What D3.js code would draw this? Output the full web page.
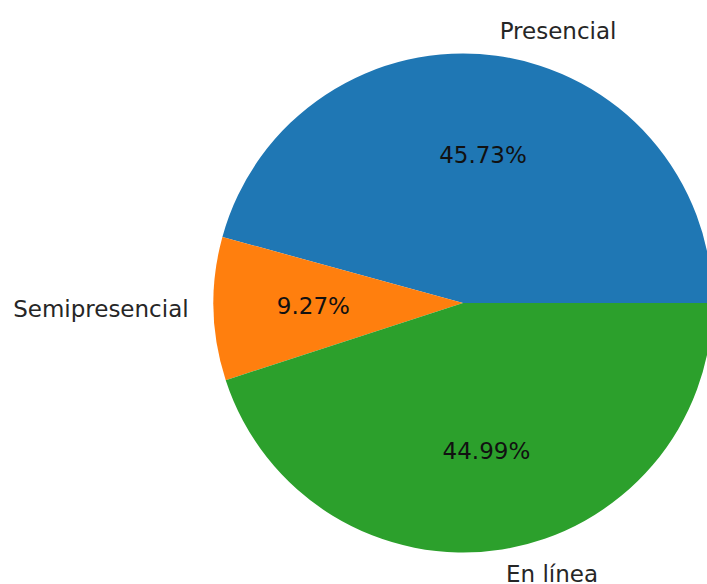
<!DOCTYPE html>
<html>
<head>
<meta charset="utf-8">
<script src="https://cdn.jsdelivr.net/npm/d3@7"></script>
<style>
html,body{margin:0;padding:0;background:#fff;}
svg{display:block;}
text{font-family:"DejaVu Sans",sans-serif;}
</style>
</head>
<body>
<svg id="chart" width="707" height="584"></svg>
<script>
const categories = ["Presencial", "Semipresencial", "En línea"];
const values = [45.73, 9.27, 44.99];
const colors = ["#1f77b4", "#ff7f0e", "#2ca02c"];

const W = 707, H = 584;
const cx = 463, cy = 303, R = 249.5;
const fontSize = 23;

const svg = d3.select("#chart");
const g = svg.append("g").attr("transform", `translate(${cx},${cy})`);

const data = categories.map((c, i) => ({cat: c, value: values[i], color: colors[i]}));
const pie = d3.pie().value(d => d.value).sort(null)
  .startAngle(Math.PI / 2).endAngle(Math.PI / 2 - 2 * Math.PI);
const arcs = pie(data);
const arc = d3.arc().innerRadius(0).outerRadius(R);

g.selectAll("path.slice").data(arcs).enter().append("path")
  .attr("class", "slice")
  .attr("d", arc)
  .attr("fill", d => d.data.color);

const total = d3.sum(values);
const mid = d => (d.startAngle + d.endAngle) / 2;

g.selectAll("text.pct").data(arcs).enter().append("text")
  .attr("class", "pct")
  .attr("x", d => 0.6 * R * Math.sin(mid(d)))
  .attr("y", d => -0.6 * R * Math.cos(mid(d)))
  .attr("text-anchor", "middle")
  .attr("dominant-baseline", "central")
  .attr("font-size", fontSize)
  .attr("fill", "#111")
  .text(d => (d.data.value / total * 100).toFixed(2) + "%");

g.selectAll("text.lab").data(arcs).enter().append("text")
  .attr("class", "lab")
  .attr("x", d => 1.1 * R * Math.sin(mid(d)))
  .attr("y", d => -1.1 * R * Math.cos(mid(d)))
  .attr("text-anchor", d => Math.sin(mid(d)) > 0 ? "start" : "end")
  .attr("dominant-baseline", "central")
  .attr("font-size", fontSize)
  .attr("fill", "#262626")
  .text(d => d.data.cat);
</script>
</body>
</html>
